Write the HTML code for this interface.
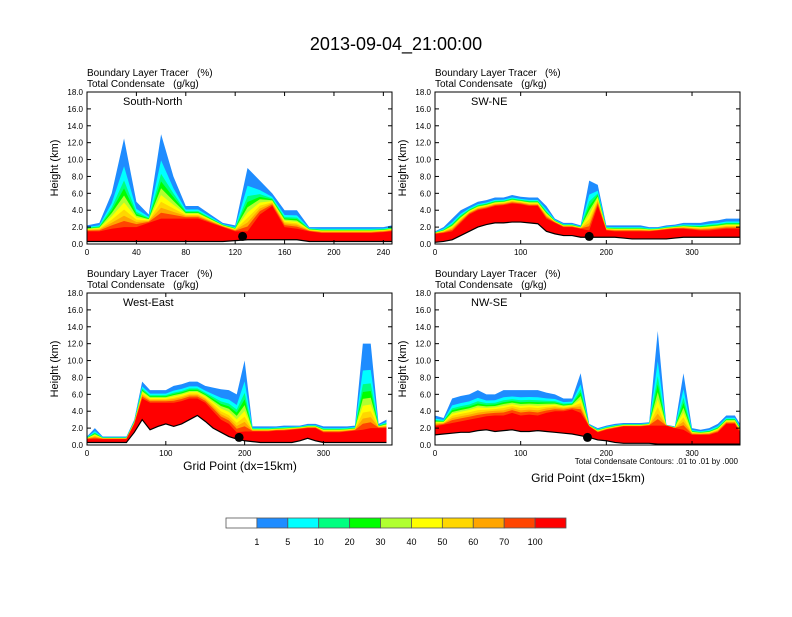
<!DOCTYPE html>
<html><head><meta charset="utf-8"><style>
body{margin:0;background:#fff;font-family:"Liberation Sans",sans-serif}
svg text{font-family:"Liberation Sans",sans-serif;white-space:pre}
</style></head><body>
<svg id="s" width="792" height="612" viewBox="0 0 792 612" xmlns="http://www.w3.org/2000/svg">
<text x="396" y="50" font-size="18" text-anchor="middle">2013-09-04_21:00:00</text>
<g id="panels"></g>
<g id="cbar"></g>
<text x="738" y="464" font-size="8" text-anchor="end">Total Condensate Contours: .01 to .01 by .000</text>
<text x="240" y="470" font-size="12" text-anchor="middle">Grid Point (dx=15km)</text>
<text x="588" y="482" font-size="12" text-anchor="middle">Grid Point (dx=15km)</text>
</svg>
<script>
const colors=["#ffffff","#1e8cff","#00ffff","#00ff80","#00ff00","#b0ff30","#ffff00","#ffd700","#ffa500","#ff4500","#ff0000"];
const cbLabels=["1","5","10","20","30","40","50","60","70","100"];
const titles=["South-North","SW-NE","West-East","NW-SE"];
const xMax=[247,356,387,356];
const xTicks=[[0,40,80,120,160,200,240],[0,100,200,300],[0,100,200,300],[0,100,200,300]];
const yTicks=[0,2,4,6,8,10,12,14,16,18];
// profiles sampled every 10 grid points (km)
const redTop=[
[1.5,1.5,1.8,2.0,2.0,2.5,3.0,3.0,3.0,3.0,2.5,2.0,1.5,1.5,3.5,4.5,2.0,1.8,1.5,1.3,1.3,1.3,1.3,1.3,1.4,1.5],
[1.2,1.3,1.5,2.5,3.5,4.0,4.2,4.5,4.6,4.8,4.7,4.5,4.5,3.0,2.5,2.0,2.0,1.8,1.6,4.5,1.6,1.5,1.5,1.5,1.5,1.5,1.6,1.7,1.8,1.8,1.7,1.6,1.6,1.7,1.8,1.8,1.8],
[0.7,0.7,0.7,0.7,0.7,0.7,2.5,5.5,5.0,5.0,5.0,5.0,5.2,5.5,5.5,5.0,4.0,3.0,2.5,1.5,1.6,1.6,1.6,1.6,1.7,1.7,1.8,1.9,2.0,2.0,1.5,1.5,1.5,1.6,1.7,1.8,2.0,2.0,2.0],
[2.2,2.4,2.6,2.8,3.0,3.2,3.4,3.5,3.5,3.8,3.5,3.6,3.5,3.8,4.0,4.0,4.2,3.8,2.2,1.5,1.8,2.0,2.2,2.2,2.2,2.3,2.3,2.3,2.0,1.8,1.2,1.2,1.2,1.5,2.5,2.5,1.5]];
const blueTop=[
[2.2,2.5,6.0,12.5,5.0,3.5,13.0,8.0,4.5,4.5,3.5,2.5,2.2,9.0,7.5,6.0,4.0,4.0,2.0,2.0,2.0,2.0,2.0,2.0,2.0,2.2],
[1.5,2.0,3.0,4.0,4.5,5.0,5.2,5.5,5.5,5.8,5.6,5.5,5.5,4.5,3.0,2.5,2.5,2.2,7.5,7.0,2.2,2.2,2.2,2.2,2.2,2.0,2.0,2.2,2.3,2.5,2.5,2.5,2.7,2.8,3.0,3.0,3.0],
[1.0,2.0,1.0,1.0,1.0,1.0,3.0,7.5,6.5,6.5,6.5,7.0,7.2,7.5,7.5,7.0,6.8,6.6,6.5,6.0,10.0,2.2,2.2,2.2,2.2,2.3,2.3,2.3,2.5,2.5,2.2,2.2,2.2,2.2,2.3,12.0,12.0,2.5,3.0],
[3.5,3.2,5.5,5.8,6.0,6.5,6.0,6.0,6.5,6.5,6.5,6.5,6.5,6.2,6.0,5.5,5.5,8.5,2.5,2.0,2.3,2.5,2.6,2.6,2.6,2.7,13.5,2.4,2.2,8.5,2.0,1.8,2.0,2.5,3.5,3.5,2.5]];
const terrain=[
[0.3,0.3,0.3,0.3,0.3,0.3,0.3,0.3,0.3,0.3,0.3,0.3,0.4,0.5,0.5,0.5,0.5,0.5,0.3,0.3,0.3,0.3,0.3,0.3,0.3,0.3],
[0.2,0.3,0.5,1.0,1.5,2.0,2.3,2.5,2.5,2.6,2.6,2.5,2.4,1.5,1.2,1.0,1.0,0.8,0.8,0.8,0.8,0.8,0.7,0.6,0.6,0.6,0.6,0.6,0.7,0.8,0.8,0.8,0.8,0.8,0.8,0.8,0.8],
[0.3,0.3,0.3,0.3,0.3,0.3,1.5,3.0,1.8,2.2,2.5,2.2,2.5,3.0,3.5,2.8,2.0,1.5,1.0,0.7,0.5,0.4,0.3,0.3,0.3,0.3,0.3,0.5,0.8,0.5,0.3,0.3,0.3,0.3,0.3,0.3,0.3,0.3,0.3],
[1.2,1.3,1.4,1.5,1.5,1.7,1.8,1.6,1.7,1.8,1.6,1.6,1.7,1.6,1.5,1.4,1.3,1.1,0.9,0.6,0.5,0.3,0.2,0.2,0.2,0.2,0.1,0.1,0.1,0.1,0.1,0.1,0.1,0.1,0.1,0.1,0.1]];
const dotX=[126,180,193,178];
const boxes=[[87,92,392,244],[435,92,740,244],[87,293,392,445],[435,293,740,445]];
const NS="http://www.w3.org/2000/svg";
function mk(t,a,p){const e=document.createElementNS(NS,t);for(const k in a)e.setAttribute(k,a[k]);p.appendChild(e);return e;}
const P=document.getElementById('panels');
const bandIdx=[1,2,3,4,5,6,7,8,9,10];
const bandOff=[99,0.9,0.8,0.7,0.6,0.5,0.4,0.3,0.2,0];
const bandFr=[1,0.6,0.45,0.37,0.3,0.23,0.16,0.1,0.05,0];
const bandCap=[1,0.72,0.6,0.52,0.45,0.38,0.3,0.22,0.12,0];
boxes.forEach((b,i)=>{
  const g=mk('g',{},P);
  
  
  const [x0,y0,x1,y1]=b;
  const X=v=>x0+v/xMax[i]*(x1-x0), Y=v=>y1-v/18*(y1-y0);
  const t1=mk('text',{x:x0,y:y0-16,'font-size':10},g);t1.textContent='Boundary Layer Tracer   (%)';
  const t2=mk('text',{x:x0,y:y0-5,'font-size':10},g);t2.textContent='Total Condensate   (g/kg)';
  const r=redTop[i],bl=blueTop[i],tr=terrain[i];
  const xs=r.map((_,k)=>Math.min(k*10,xMax[i]));
  bandIdx.forEach((ci,j)=>{
    let pts=xs.map((x,k)=>{
      const d=bl[k]-r[k];
      const h=r[k]+Math.min(d*bandCap[j], bandOff[j]+bandFr[j]*d);
      return X(x)+','+Y(h);}).join(' ');
    pts+=' '+X(xs[xs.length-1])+','+Y(0)+' '+X(0)+','+Y(0);
    const p=mk('polygon',{points:pts,fill:colors[ci]},g);
    
    
  });
  let tp=xs.map((x,k)=>X(x)+','+Y(tr[k])).join(' ');
  const tw=mk('polygon',{points:tp+' '+X(xs[xs.length-1])+','+Y(0)+' '+X(0)+','+Y(0),fill:'#fff'},g);
  
  
  mk('polyline',{points:tp,fill:'none',stroke:'#000','stroke-width':1.2},g);
  const d=mk('circle',{cx:X(dotX[i]),cy:Y(0.9),r:4.5,fill:'#000'},g);
  
  
  mk('rect',{x:x0,y:y0,width:x1-x0,height:y1-y0,fill:'none',stroke:'#000','stroke-width':1},g);
  const lt=mk('text',{x:x0+36,y:y0+13,'font-size':11},g);lt.textContent=titles[i];
  
  
  yTicks.forEach(v=>{
    mk('line',{x1:x0,x2:x0+4,y1:Y(v),y2:Y(v),stroke:'#000'},g);
    mk('line',{x1:x1,x2:x1-4,y1:Y(v),y2:Y(v),stroke:'#000'},g);
    const tt=mk('text',{x:x0-4,y:Y(v)+3,'font-size':8,'text-anchor':'end'},g);tt.textContent=v.toFixed(1);
  });
  xTicks[i].forEach(v=>{
    mk('line',{x1:X(v),x2:X(v),y1:y1,y2:y1-4,stroke:'#000'},g);
    mk('line',{x1:X(v),x2:X(v),y1:y0,y2:y0+4,stroke:'#000'},g);
    const tt=mk('text',{x:X(v),y:y1+11,'font-size':8,'text-anchor':'middle'},g);tt.textContent=v;
  });
  const yl=mk('text',{x:0,y:0,'font-size':11,'text-anchor':'middle',transform:`translate(${x0-29},${(y0+y1)/2}) rotate(-90)`},g);
  yl.textContent='Height (km)';
  
  
});
const C=document.getElementById('cbar');
const cw=340/11;
colors.forEach((c,k)=>{
  const r=mk('rect',{x:226+k*cw,y:518,width:cw,height:10,fill:c,stroke:'#555','stroke-width':0.8},C);
  
  
});
cbLabels.forEach((l,k)=>{const t=mk('text',{x:226+(k+1)*cw,y:545,'font-size':9,'text-anchor':'middle'},C);t.textContent=l;});
</script>
</body></html>
